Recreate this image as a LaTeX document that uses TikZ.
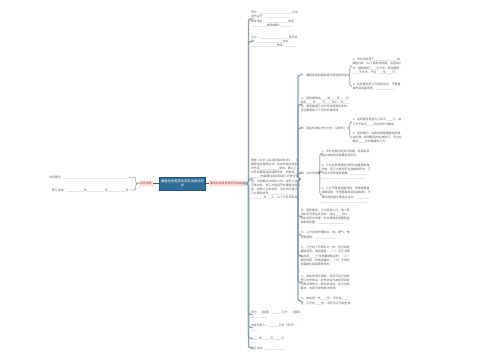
\documentclass[tikz,border=0pt]{standalone}
\usepackage{fontspec}
\newfontfamily\cjk{Noto Sans CJK SC}
\definecolor{trunkc}{HTML}{8AA3B3}
\definecolor{brc}{HTML}{5A5A5A}
\definecolor{textc}{HTML}{5C5C5C}
\definecolor{pinkf}{HTML}{FBE1E1}
\definecolor{pinkt}{HTML}{B23A3A}
\definecolor{bluef}{HTML}{2F6E96}
\definecolor{blueb}{HTML}{1F5576}
\begin{document}
\begin{tikzpicture}[x=1pt,y=-1pt,
  txt/.style={font=\cjk\fontsize{2.9}{4.2}\selectfont, text=textc, align=left, inner sep=0.3pt, anchor=west},
  trunk/.style={draw=trunkc, line width=1.3pt, rounded corners=2.5pt},
  br/.style={draw=brc, line width=0.35pt, rounded corners=2pt},
  link/.style={draw=brc, line width=0.4pt},
  pinkbox/.style={fill=pinkf, text=pinkt, font=\cjk\fontsize{2.9}{3.5}\selectfont, inner xsep=1.2pt, inner ysep=1.6pt, rounded corners=0.5pt},
  centre/.style={fill=bluef, draw=blueb, line width=0.3pt, text=white, font=\cjk\fontsize{3.3}{4.4}\selectfont, align=center, minimum width=46pt, minimum height=13pt, inner sep=1pt}]
\useasboundingbox (0,0) rectangle (500,360);

% centre and first level
\node[centre] (cb) at (182.5,183.5) {廉租住房租赁合同范本格式样\\本};
\node[pinkbox] (lp) at (146,183.5) {合同信息};
\node[pinkbox] (rp) at (227.5,183.5) {廉租住房租赁合同范本格式};
\draw[link] (cb.west) -- (lp.east);
\draw[link] (cb.east) -- (rp.west);

% left
\node[txt, anchor=east] (L1) at (129,177.5) {合同编号：\_\_\_\_\_\_\_\_\_\_\_\_\_\_\_\_\_\_\_\_\_\_\_\_\_\_\_\_\_\_\_\_\_\_\_\_\_\_\_\_};
\node[txt, anchor=east] (L2) at (129,190) {签订日期：\_\_\_\_\_\_\_\_\_\_\_年\_\_\_\_\_\_\_\_\_\_\_月\_\_\_\_\_\_\_\_\_\_\_日};
\draw[br] (lp.west) -- ++(-3,0) |- (L1.east);
\draw[br] (lp.west) -- ++(-3,0) |- (L2.east);

% main trunk children
\node[txt] (T1) at (250.5,19) {甲方：\_\_\_\_\_\_\_\_\_\_\_\_\_\_\_\_\_\_\_\_公司\\身份证号：\_\_\_\_\_\_\_\_\_\_\_\_\_\_\\联系地址：\_\_\_\_\_\_\_\_\_\_\_\_\_\_电话\\\_\_\_\_\_\_\_\_\_\_邮政编码：\_\_\_\_\_\_};
\node[txt] (T2) at (250.5,41.5) {乙方：\_\_\_\_\_\_\_\_\_\_\_\_\_\_\_\_\_\_身份证\\号：\_\_\_\_\_\_\_\_\_\_\_\_\_\_\_\_住址：\\\_\_\_\_\_\_\_\_\_\_\_\_\_\_\_\_电话：\_\_\_\_\_\_};
\node[txt] (B) at (250.5,179) {根据《中华人民共和国合同法》、《\\廉租住房保障办法》及本市有关规定，\\甲方经\_\_\_\_\_\_\_\_\_\_\_\_审核，确认乙\\方符合廉租住房保障条件，同意将\_\_\_\\\_\_\_\_\_\_的廉租住房出租给乙方居住使\\用。为明确双方权利义务，经甲乙双方\\平等协商，就乙方承租甲方廉租住房事\\宜，自愿订立本合同，双方共同遵守。\\乙方家庭成员：\_\_\_\_\_\_、\_\_\_\_\_\_、\\\_\_\_\_\_\_，共\_\_\_人。以下为合同条款。};
\node[txt] (E1) at (250.5,314.5) {甲方：（盖章）\_\_\_\_\_\_ 乙方：（盖章）\\\_\_\_\_\_\_\_\_\_\_};
\node[txt] (E2) at (250.5,327.5) {法定代表人：\_\_\_\_\_\_ 乙方（签字）：\\\_\_\_\_};
\node[txt] (E3) at (250.5,338.5) {\_\_\_\_\_年\_\_\_\_\_月\_\_\_\_\_日};
\node[txt] (E4) at (250.5,348) {签订地点：\_\_\_\_\_\_\_\_\_\_\_\_};
\coordinate (mt) at (248.5,183.5);
\foreach \c in {T1,T2,B,E1,E2,E3,E4} \draw[trunk] (rp.east) -- (mt) |- (\c.west);

% second trunk children
\node[txt] (I1) at (300,75) {一、廉租住房的基本情况及租赁用途};
\node[txt] (I2) at (300,104.5) {二、租赁期限自\_\_\_\_年\_\_\_\_月\_\_\_\_日\\起至\_\_\_\_年\_\_\_\_月\_\_\_\_日止，共\_\_\_\_\\年。租赁期满乙方仍符合保障条件的，\\可在期满前三个月内申请续租。};
\node[txt] (I3) at (300,128) {三、租金标准及支付方式（见附件）};
\node[txt] (I4) at (300,173) {四、双方责任};
\node[txt] (I5) at (300,216.5) {五、租赁期间，乙方家庭人口、收入及\\住房状况发生变化的，应在\_\_\_\_日内\\如实向甲方申报，甲方按规定调整租金\\或收回房屋。\_\_\_\_\_\_\_\_\_\_\_\_\_\_\_\_};
\node[txt] (I6) at (300,235) {六、乙方应按时缴纳水、电、燃气、物\\业等费用。\_\_\_\_\_\_\_\_\_\_\_\_\_\_};
\node[txt] (I7) at (300,256) {七、乙方有下列情形之一的，甲方有权\\解除合同、收回房屋：（一）无正当理\\由连续\_\_\_\_个月未缴纳租金的；（二）\\擅自转租、转借房屋的；（三）不再符\\合廉租住房保障条件的。};
\node[txt] (I8) at (300,282.5) {八、本合同未尽事宜，双方可另行协商\\签订补充协议，补充协议与本合同具有\\同等法律效力。发生争议的，双方协商\\解决，协商不成的依法处理。};
\node[txt] (I9) at (300,301) {九、本合同一式\_\_\_\_份，甲方执\_\_\_\_\\份，乙方执\_\_\_\_份，自签字之日起生效。};
\coordinate (st) at (298,179);
\foreach \c in {I1,I2,I3,I4,I5,I6,I7,I8,I9} \draw[trunk] (B.east) -- (st) |- (\c.west);

% third level
\node[txt] (C11) at (352,66) {1、甲方将坐落于\_\_\_\_\_\_\_\_\_\_\_\_\_\_的\\廉租住房（以下简称该房屋）出租给乙\\方，建筑面积\_\_\_\_平方米，使用面积\\\_\_\_\_平方米，户型\_\_\_\_室\_\_\_\_厅。};
\node[txt] (C12) at (352,86.5) {2、该房屋仅限乙方家庭自住，不得擅\\自改变房屋用途。\_\_\_\_\_\_\_\_\_\_\_\_};
\draw[br] (I1.east) -- ++(2.5,0) |- (C11.west);
\draw[br] (I1.east) -- ++(2.5,0) |- (C12.west);

\node[txt] (C31) at (352,122) {1、该房屋月租金为人民币\_\_\_\_元，由\\乙方于每月\_\_\_\_日前向甲方缴纳。};
\node[txt] (C32) at (352,137.5) {2、租赁期间，如政府调整廉租住房租\\金标准，按调整后的标准执行，甲方应\\提前\_\_\_\_日书面通知乙方。};
\draw[br] (I3.east) -- ++(2.5,0) |- (C31.west);
\draw[br] (I3.east) -- ++(2.5,0) |- (C32.west);

\node[txt] (C41) at (321,153.5) {1、甲方应按约定交付房屋，并保证房\\屋主体结构及附属设施安全。};
\node[txt] (C42) at (321,171.5) {2、乙方应合理使用并爱护房屋及附属\\设施，因乙方使用不当造成损坏的，乙\\方应负责修复或赔偿。\_\_\_\_\_\_\_\_\_\_\\\_\_\_\_\_\_\_\_\_\_\_\_\_\_\_\_\_\_\_\_\_\_\_\_\_\_\_};
\node[txt] (C43) at (321,195) {3、乙方不得将房屋转租、转借或擅自\\调换使用，不得擅自改变房屋结构，不\\得利用房屋从事违法活动。\_\_\_\_\_\_\_\_\\\_\_\_\_\_\_\_\_\_\_\_\_\_\_\_\_\_\_\_\_\_\_\_\_\_\_\_\_};
\draw[br] (I4.east) -- ++(1.5,0) |- (C41.west);
\draw[br] (I4.east) -- ++(1.5,0) |- (C42.west);
\draw[br] (I4.east) -- ++(1.5,0) |- (C43.west);
\end{tikzpicture}
\end{document}
